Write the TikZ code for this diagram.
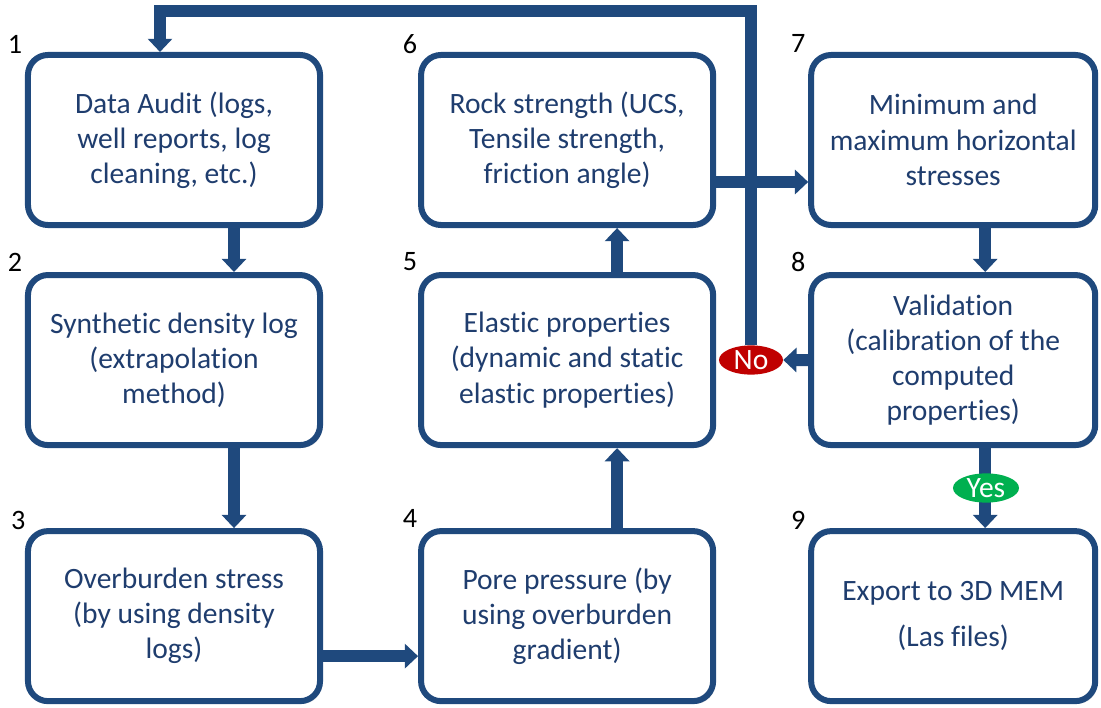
\documentclass[tikz,border=0pt]{standalone}
\usepackage{fontspec}
\setmainfont{Carlito}[RawFeature=-liga]
\definecolor{mainblue}{RGB}{31, 73, 125}
\definecolor{textblue}{RGB}{31, 61, 110}
\definecolor{nored}{RGB}{192, 0, 0}
\definecolor{yesgreen}{RGB}{0, 176, 80}
\usetikzlibrary{shapes.geometric, arrows.meta, positioning, calc, shadows}
\tikzset{
    stepbox/.style={
        rectangle, rounded corners=0.5cm,
        minimum width=7.3cm, minimum height=4.25cm,
        draw=mainblue, fill=white, text=textblue,
        font=\fontsize{21}{25}\selectfont, align=center, line width=0.15cm,
        drop shadow={shadow xshift=0.05cm, shadow yshift=-0.07cm, opacity=0.25}
    },
    num/.style={font=\fontsize{20}{24}\selectfont, text=black, inner sep=0pt},
    flow/.style={-{Triangle[length=0.33cm,width=0.6cm]}, line width=0.3cm, draw=mainblue, line join=miter},
    decision/.style={
        ellipse, fill=#1, text=white, inner sep=0pt,
        minimum width=1.6cm, minimum height=0.73cm,
        font=\fontsize{21}{24}\selectfont
    }
}
\begin{document}
\begin{tikzpicture}[x=0.025cm, y=-0.025cm]
    \useasboundingbox (0,0) rectangle (1101,708);

    % First column
    \node[stepbox] (audit) at (174,140) {Data Audit (logs,\\well reports, log\\cleaning, etc.)};
    \node[stepbox, below=1.1cm of audit] (density) {Synthetic density log\\(extrapolation\\method)};
    \node[stepbox, below=2cm of density] (overburden) {Overburden stress\\(by using density\\logs)};

    % Second column
    \node[stepbox, right=2.375cm of overburden] (pore) {Pore pressure (by\\using overburden\\gradient)};
    \node[stepbox, above=2cm of pore] (elastic) {Elastic properties\\(dynamic and static\\elastic properties)};
    \node[stepbox, above=1.1cm of elastic] (strength) {Rock strength (UCS,\\Tensile strength,\\friction angle)};

    % Third column
    \node[stepbox, minimum width=7.1cm, right=2.3cm of strength] (stresses) {Minimum and\\maximum horizontal\\stresses};
    \node[stepbox, minimum width=7.1cm, below=1.1cm of stresses] (valid) {Validation\\(calibration of the\\computed\\properties)};
    \node[stepbox, minimum width=7.1cm, below=2cm of valid, font=\fontsize{21}{33}\selectfont] (export) {Export to 3D MEM\\(Las files)};

    % Step numbers
    \node[num] at ([shift={(-0.25cm,0.2cm)}]audit.north west) {1};
    \node[num] at ([shift={(-0.25cm,0.25cm)}]density.north west) {2};
    \node[num] at ([shift={(-0.17cm,0.2cm)}]overburden.north west) {3};
    \node[num] at ([shift={(-0.2cm,0.25cm)}]pore.north west) {4};
    \node[num] at ([shift={(-0.2cm,0.25cm)}]elastic.north west) {5};
    \node[num] at ([shift={(-0.2cm,0.2cm)}]strength.north west) {6};
    \node[num] at ([shift={(-0.25cm,0.2cm)}]stresses.north west) {7};
    \node[num] at ([shift={(-0.25cm,0.25cm)}]valid.north west) {8};
    \node[num] at ([shift={(-0.25cm,0.2cm)}]export.north west) {9};

    % Main flow
    \draw[flow] ([xshift=1.5cm]audit.south) -- ([xshift=1.5cm]density.north);
    \draw[flow] ([xshift=1.5cm]density.south) -- ([xshift=1.5cm]overburden.north);
    \draw[flow] ([yshift=-1cm]overburden.east) -- ([yshift=-1cm]pore.west);
    \draw[flow] ([xshift=1.25cm]pore.north) -- ([xshift=1.25cm]elastic.south);
    \draw[flow] ([xshift=1.25cm]elastic.north) -- ([xshift=1.25cm]strength.south);
    \draw[flow] ([yshift=-1.05cm]strength.east) -- ([yshift=-1.05cm]stresses.west);
    \draw[flow] ([xshift=0.8cm]stresses.south) -- ([xshift=0.8cm]valid.north);
    \draw[flow] ([xshift=0.8cm]valid.south) -- ([xshift=0.8cm]export.north);

    % Decisions
    \node[decision=yesgreen, minimum width=1.65cm] (yes) at (986,488) {Yes};
    \node[decision=nored] (no) at (751,360) {No};
    \draw[flow] (valid.west) -- (no.east);

    % Loop back to the audit
    \coordinate (top) at (0,11);
    \coordinate (fb) at ([xshift=-0.35cm]audit.north);
    \draw[flow] (no.north) |- (fb |- top) -- (fb);
\end{tikzpicture}
\end{document}
